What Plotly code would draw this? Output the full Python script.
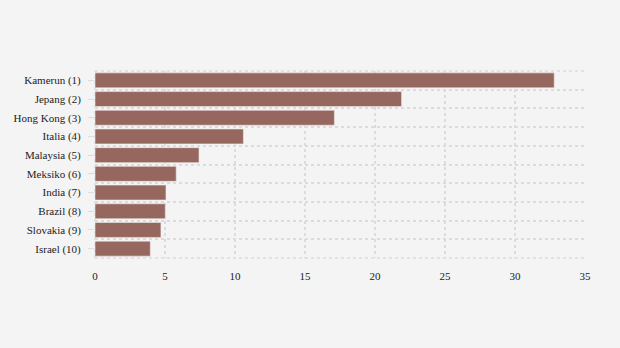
import plotly.graph_objects as go

countries = ["Kamerun (1)", "Jepang (2)", "Hong Kong (3)", "Italia (4)", "Malaysia (5)",
             "Meksiko (6)", "India (7)", "Brazil (8)", "Slovakia (9)", "Israel (10)"]
values = [32.8, 21.9, 17.1, 10.6, 7.43, 5.8, 5.07, 5.02, 4.71, 3.95]
x_ticks = [0, 5, 10, 15, 20, 25, 30, 35]

positions = list(range(len(countries)))

fig = go.Figure(go.Bar(
    x=values, y=positions, orientation="h",
    marker=dict(color="#95675f", line=dict(color="#f0e8e6", width=0.6)),
    width=0.8,
))

fig.update_layout(
    width=620, height=348,
    margin=dict(l=95, r=35, t=71, b=90),
    paper_bgcolor="#f4f4f4", plot_bgcolor="#f4f4f4",
    font=dict(family="Liberation Serif, Times New Roman, serif", size=11, color="#222222"),
    showlegend=False,
)
fig.update_xaxes(
    range=[0, 35], tickvals=x_ticks, showgrid=True, gridcolor="#dcdcdc",
    griddash="dot", gridwidth=1.5, zeroline=False, showline=False,
    ticks="outside", ticklen=8, tickcolor="rgba(0,0,0,0)",
)
fig.update_yaxes(
    range=[len(countries) - 0.5, -0.5], tickvals=positions, ticktext=countries,
    showgrid=False, zeroline=False, showline=False,
    ticks="outside", ticklen=6, tickcolor="#dddddd", ticklabelstandoff=5,
    minor=dict(tick0=0.5, dtick=1, showgrid=True, gridcolor="#dcdcdc",
               griddash="dot", gridwidth=1.5, ticks=""),
)
fig.add_shape(type="line", xref="paper", yref="paper", x0=0, x1=1, y0=1, y1=1,
              line=dict(color="#dcdcdc", width=1.5, dash="dot"))
fig.add_shape(type="line", xref="paper", yref="paper", x0=0, x1=1, y0=0, y1=0,
              line=dict(color="#dcdcdc", width=1.5, dash="dot"), layer="below")
fig.add_shape(type="line", xref="paper", yref="paper", x0=0, x1=0, y0=0, y1=1,
              line=dict(color="#dcdcdc", width=1.5, dash="dot"), layer="below")

fig.write_html("out.html")
